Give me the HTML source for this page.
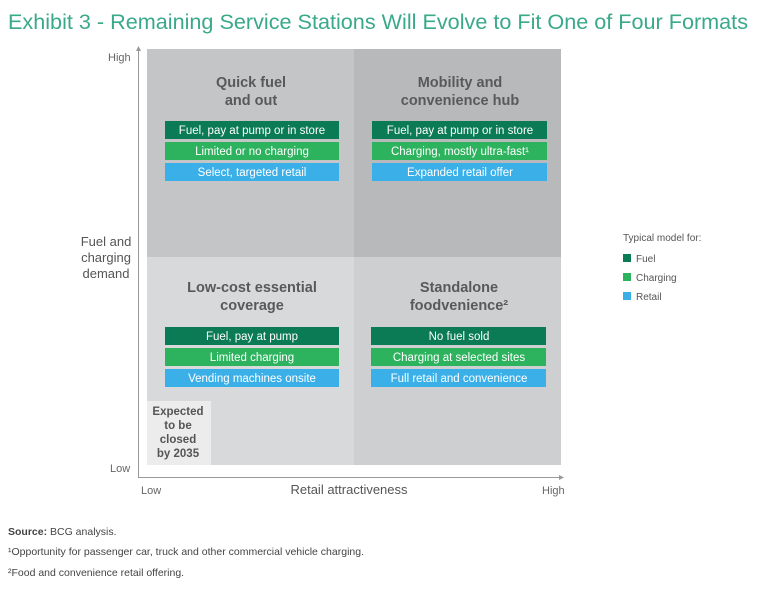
<!DOCTYPE html>
<html><head><meta charset="utf-8"><style>
body{margin:0;background:#fff;width:768px;height:591px;overflow:hidden;font-family:"Liberation Sans",sans-serif}
svg text{font-family:"Liberation Sans",sans-serif}
</style></head><body>
<svg width="768" height="591" viewBox="0 0 768 591">
<text x="8" y="29" font-size="21" fill="#3aa98a" textLength="740" lengthAdjust="spacingAndGlyphs">Exhibit 3 - Remaining Service Stations Will Evolve to Fit One of Four Formats</text>
<rect x="147" y="49" width="207" height="208" fill="#c4c5c7"/>
<rect x="354" y="49" width="207" height="208" fill="#b8b9bb"/>
<rect x="147" y="257" width="207" height="208" fill="#d8d9db"/>
<rect x="354" y="257" width="207" height="208" fill="#cecfd1"/>
<rect x="147" y="401" width="64" height="64" fill="#ececec"/>
<g font-size="11.5" fill="#555" text-anchor="middle" font-weight="bold">
<text x="178" y="415">Expected</text><text x="178" y="429">to be</text><text x="178" y="443">closed</text><text x="178" y="457">by 2035</text></g>
<g font-size="14.5" font-weight="bold" fill="#595959" text-anchor="middle">
<text x="251" y="87">Quick fuel</text><text x="251" y="105">and out</text>
<text x="460" y="87">Mobility and</text><text x="460" y="105">convenience hub</text>
<text x="252" y="292">Low-cost essential</text><text x="252" y="310">coverage</text>
<text x="459" y="292">Standalone</text><text x="459" y="310">foodvenience²</text></g>
<g font-size="11.5" fill="#fff" text-anchor="middle">
<rect x="165" y="121" width="174" height="18" fill="#0b7b55"/><text x="252" y="134">Fuel, pay at pump or in store</text>
<rect x="165" y="142" width="174" height="18" fill="#2db35d"/><text x="252" y="155">Limited or no charging</text>
<rect x="165" y="163" width="174" height="18" fill="#3bb0e8"/><text x="252" y="176">Select, targeted retail</text>
<rect x="372" y="121" width="175" height="18" fill="#0b7b55"/><text x="460" y="134">Fuel, pay at pump or in store</text>
<rect x="372" y="142" width="175" height="18" fill="#2db35d"/><text x="460" y="155">Charging, mostly ultra-fast¹</text>
<rect x="372" y="163" width="175" height="18" fill="#3bb0e8"/><text x="460" y="176">Expanded retail offer</text>
<rect x="165" y="327" width="174" height="18" fill="#0b7b55"/><text x="252" y="340">Fuel, pay at pump</text>
<rect x="165" y="348" width="174" height="18" fill="#2db35d"/><text x="252" y="361">Limited charging</text>
<rect x="165" y="369" width="174" height="18" fill="#3bb0e8"/><text x="252" y="382">Vending machines onsite</text>
<rect x="371" y="327" width="175" height="18" fill="#0b7b55"/><text x="459" y="340">No fuel sold</text>
<rect x="371" y="348" width="175" height="18" fill="#2db35d"/><text x="459" y="361">Charging at selected sites</text>
<rect x="371" y="369" width="175" height="18" fill="#3bb0e8"/><text x="459" y="382">Full retail and convenience</text>
</g>
<g stroke="#999" stroke-width="1">
<line x1="138.5" y1="50" x2="138.5" y2="477"/><line x1="138" y1="477.5" x2="560" y2="477.5"/></g>
<polygon points="138.5,46 136,51 141,51" fill="#999"/>
<polygon points="564,477.5 559,475 559,480" fill="#999"/>
<g font-size="11" fill="#666">
<text x="108" y="61">High</text>
<text x="110" y="472">Low</text>
<text x="141" y="494">Low</text>
<text x="542" y="494">High</text></g>
<g font-size="13" fill="#555" text-anchor="middle">
<text x="106" y="246">Fuel and</text><text x="106" y="262">charging</text><text x="106" y="278">demand</text></g>
<text x="349" y="494" font-size="13" fill="#555" text-anchor="middle">Retail attractiveness</text>
<g font-size="10" fill="#555">
<text x="623" y="241">Typical model for:</text>
<rect x="623" y="254" width="8" height="8" fill="#0b7b55"/><text x="636" y="262">Fuel</text>
<rect x="623" y="273" width="8" height="8" fill="#2db35d"/><text x="636" y="281">Charging</text>
<rect x="623" y="292" width="8" height="8" fill="#3bb0e8"/><text x="636" y="300">Retail</text></g>
<g font-size="10.5" fill="#444">
<text x="8" y="535"><tspan font-weight="bold">Source:</tspan> BCG analysis.</text>
<text x="8" y="555">¹Opportunity for passenger car, truck and other commercial vehicle charging.</text>
<text x="8" y="576">²Food and convenience retail offering.</text></g>
</svg>
</body></html>
